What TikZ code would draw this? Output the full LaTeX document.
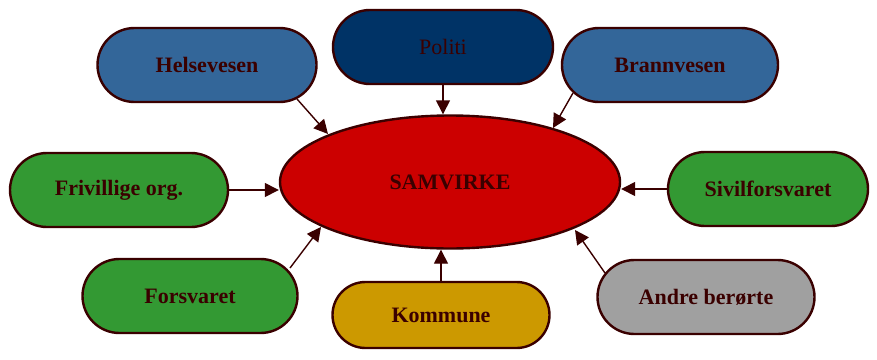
\documentclass[tikz,border=0pt]{standalone}
\usepackage{fontspec}
\setmainfont{Liberation Serif}
\usetikzlibrary{arrows.meta,shapes.geometric,shapes.misc}
\definecolor{edge}{HTML}{3A0000}
\definecolor{navy}{HTML}{003366}
\definecolor{steel}{HTML}{336699}
\definecolor{grass}{HTML}{339933}
\definecolor{ochre}{HTML}{CC9900}
\definecolor{stone}{HTML}{A0A0A0}
\definecolor{crimson}{HTML}{CC0000}
\tikzset{
  pill/.style={draw=edge, line width=2.4pt, rounded rectangle, minimum height=#1, text=edge,
    font=\fontsize{22}{26}\selectfont\bfseries, inner sep=0pt},
  pill/.default=74pt,
  link/.style={draw=edge, line width=1.4pt, -{Triangle[length=14pt,width=14pt]}},
}
\begin{document}
\begin{tikzpicture}[x=1pt,y=-1pt]
\useasboundingbox (0,0) rectangle (877,359);
\node[ellipse, draw=edge, line width=2.4pt, fill=crimson, minimum width=340pt, minimum height=133pt,
      text=edge, font=\fontsize{22}{26}\selectfont\bfseries] (core) at (450,182) {SAMVIRKE};
\node[pill, fill=navy, minimum width=220pt, font=\fontsize{22}{26}\selectfont] (pol) at (443,47) {Politi};
\node[pill, fill=steel, minimum width=219pt] (hel) at (207,65) {Helsevesen};
\node[pill, fill=steel, minimum width=216pt] (bra) at (670,65) {Brannvesen};
\node[pill, fill=grass, minimum width=218pt] (fri) at (119,190) {Frivillige org.};
\node[pill, fill=grass, minimum width=200pt] (siv) at (768,189) {Sivilforsvaret};
\node[pill, fill=grass, minimum width=215pt] (for) at (190,296) {Forsvaret};
\node[pill=66pt, fill=ochre, minimum width=217pt] (kom) at (441,315) {Kommune};
\node[pill, fill=stone, minimum width=217pt] (and) at (706,297) {Andre berørte};
% connector end points on the borders
\coordinate (hA) at (297,99);  \coordinate (hB) at (328,134);
\coordinate (bA) at (573,93);  \coordinate (bB) at (553,128);
\coordinate (fA) at (290,268); \coordinate (fB) at (321,227);
\coordinate (aA) at (605,273); \coordinate (aB) at (575,230);
\draw[link] (pol.south) -- (pol.south |- core.north);
\draw[link] (hA) -- (hB);
\draw[link] (bA) -- (bB);
\draw[link] (fri.east) -- (fri.east -| core.west);
\draw[link] (siv.west) -- (siv.west -| core.east);
\draw[link] (fA) -- (fB);
\draw[link] (aA) -- (aB);
\draw[link] (kom.north) -- (kom.north |- core.south);
\end{tikzpicture}
\end{document}
